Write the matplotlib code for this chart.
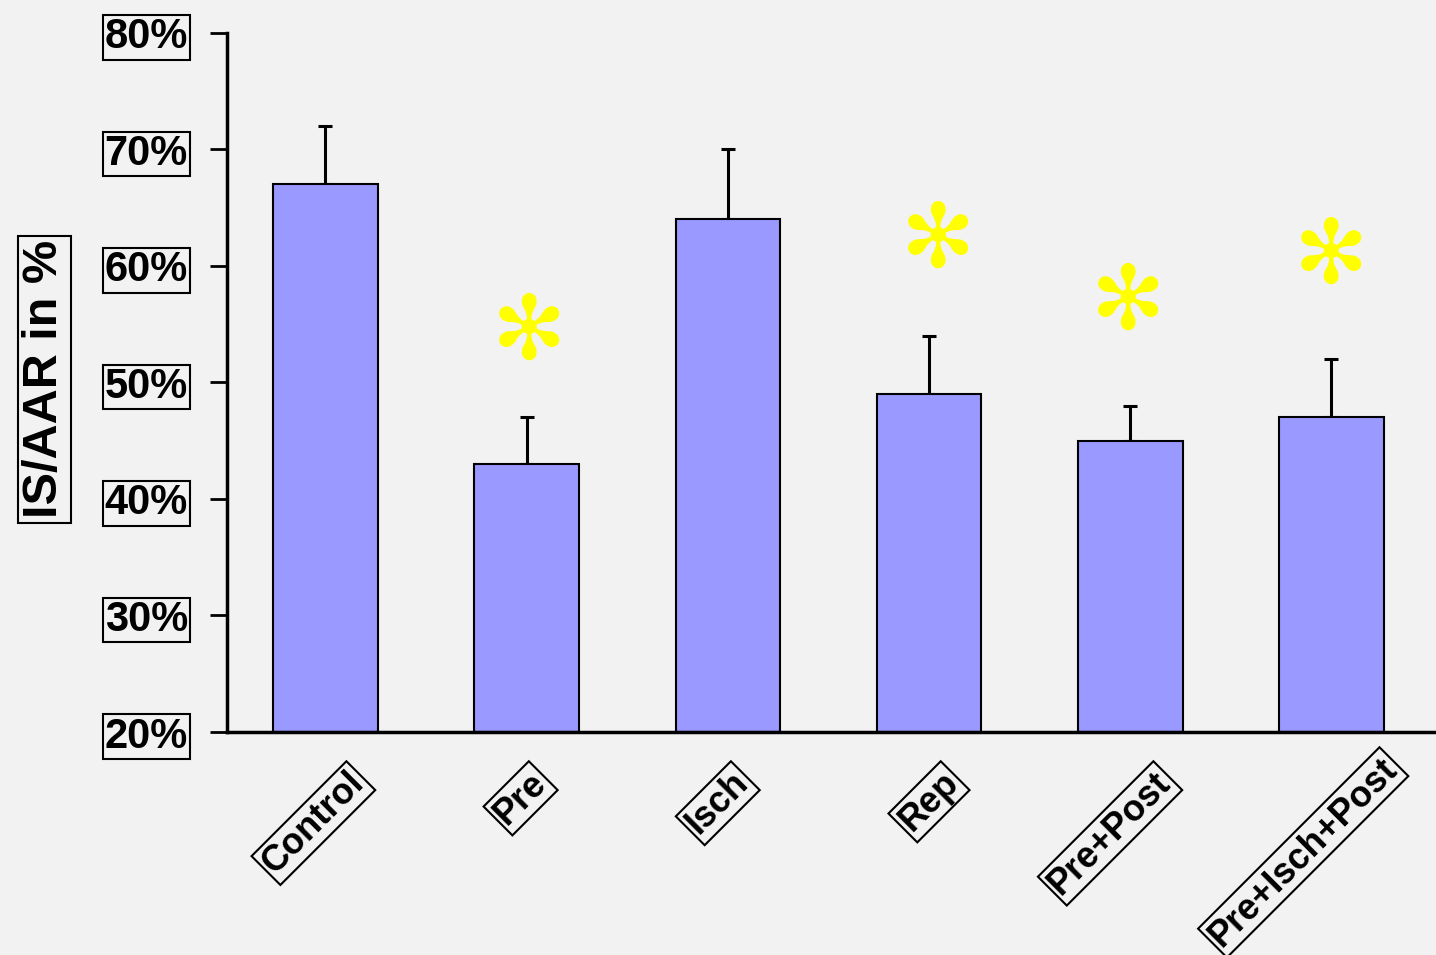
import matplotlib.pyplot as plt
import matplotlib.transforms as mtransforms
import numpy as np

plt.rcParams['font.family'] = ['Liberation Sans', 'DejaVu Sans']

groups = ["Control", "Pre", "Isch", "Rep", "Pre+Post", "Pre+Isch+Post"]
means = [67, 43, 64, 49, 45, 47]
errors = [5, 4, 6, 5, 3, 5]
# significance markers: position along x and height of the star
star_x = [1.01, 3.045, 3.99, 5.0]
star_y = [54.1, 62.0, 56.7, 60.7]
yticks = [20, 30, 40, 50, 60, 70, 80]

bg = '#f2f2f2'
fig = plt.figure(figsize=(14.36, 9.55), dpi=100, facecolor=bg)
ax = fig.add_axes([0.158, 0.2335, 0.842, 0.732])
ax.set_facecolor(bg)

x = np.arange(len(groups))
ax.bar(x, np.array(means) - 20, width=0.52, bottom=20, color='#9999ff',
       edgecolor='black', linewidth=1.5, zorder=2)
# upper error bars only
ax.errorbar(x, means, yerr=[np.zeros(len(errors)), errors], fmt='none',
            ecolor='black', elinewidth=2.2, capsize=5, capthick=2.2, zorder=1)

for sx, sy in zip(star_x, star_y):
    ax.text(sx, sy, '\u273b', color='#ffff00', fontsize=64,
            ha='center', va='center', family='DejaVu Sans')

ax.set_xlim(-0.49, 5.52)
ax.set_ylim(20, 80)
ax.set_yticks(yticks)
ax.set_yticklabels([f"{v}%" for v in yticks], fontsize=30, fontweight='bold')
for lbl in ax.get_yticklabels():
    lbl.set_bbox(dict(facecolor='none', edgecolor='black', pad=1.5, linewidth=1.5))
ax.tick_params(axis='y', length=12, width=2, pad=16)

# category labels sit a little left of the bar centres
ax.set_xticks(x - np.array([0.06, 0.03, 0.05, 0.0, 0.1, 0.14]))
ax.set_xticklabels(groups, rotation=45, fontsize=26, fontweight='bold')
ax.tick_params(axis='x', length=0, pad=24)
for lbl in ax.get_xticklabels():
    lbl.set_bbox(dict(facecolor='none', edgecolor='black', pad=2, linewidth=1.5))
# the longest label is raised so it stays inside the figure
lift = mtransforms.ScaledTranslation(0, 14 / 100, fig.dpi_scale_trans)
last = ax.get_xticklabels()[-1]
last.set_transform(last.get_transform() + lift)

ax.spines['top'].set_visible(False)
ax.spines['right'].set_visible(False)
ax.spines['left'].set_linewidth(2.5)
ax.spines['bottom'].set_linewidth(2.5)

fig.text(0.031, 0.603, 'IS/AAR in %', rotation=90, fontsize=35, fontweight='bold',
         ha='center', va='center',
         bbox=dict(facecolor='none', edgecolor='black', pad=3, linewidth=1.5))

fig.savefig('out.png', dpi=100, facecolor=bg)
